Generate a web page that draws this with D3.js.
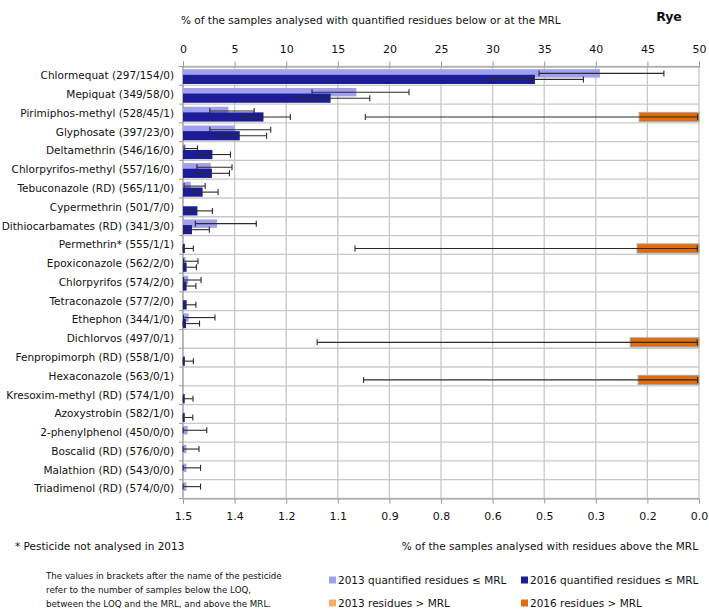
<!DOCTYPE html>
<html>
<head>
<meta charset="utf-8">
<script src="https://cdn.jsdelivr.net/npm/d3@7"></script>
<style>
  body { margin: 0; background: #fff; }
  svg text { font-family: "DejaVu Sans", Verdana, sans-serif; fill: #111; }
</style>
</head>
<body>
<div id="chart"></div>
<script>
// data
var pesticides = [
  "Chlormequat (297/154/0)", "Mepiquat (349/58/0)", "Pirimiphos-methyl (528/45/1)",
  "Glyphosate (397/23/0)", "Deltamethrin (546/16/0)", "Chlorpyrifos-methyl (557/16/0)",
  "Tebuconazole (RD) (565/11/0)", "Cypermethrin (501/7/0)", "Dithiocarbamates (RD) (341/3/0)",
  "Permethrin* (555/1/1)", "Epoxiconazole (562/2/0)", "Chlorpyrifos (574/2/0)",
  "Tetraconazole (577/2/0)", "Ethephon (344/1/0)", "Dichlorvos (497/0/1)",
  "Fenpropimorph (RD) (558/1/0)", "Hexaconazole (563/0/1)", "Kresoxim-methyl (RD) (574/1/0)",
  "Azoxystrobin (582/1/0)", "2-phenylphenol (450/0/0)", "Boscalid (RD) (576/0/0)",
  "Malathion (RD) (543/0/0)", "Triadimenol (RD) (574/0/0)"
];

// % quantified residues <= MRL, 2013 (light) with 95% interval
var q2013   = [40.4, 16.8, 4.4, 5.0, 0.25, 2.7, 0.75, null, 3.3, null, 0.25, 0.5, null, 0.55, null, null, null, null, null, 0.45, 0.33, 0.33, 0.33];
var q2013lo = [34.5, 12.5, 2.6, 2.6, 0.1, 1.35, 0.1, null, 1.2, null, 0.05, 0.05, null, 0.05, null, null, null, null, null, 0.02, 0.01, 0.01, 0.01];
var q2013hi = [46.6, 21.9, 6.9, 8.5, 1.4, 4.75, 2.15, null, 7.1, null, 1.45, 1.75, null, 3.1, null, null, null, null, null, 2.3, 1.55, 1.7, 1.7];

// % quantified residues <= MRL, 2016 (dark)
var q2016   = [34.1, 14.3, 7.8, 5.5, 2.85, 2.8, 1.9, 1.4, 0.87, 0.18, 0.35, 0.35, 0.35, 0.29, null, 0.18, null, 0.17, 0.17, null, null, null, null];
var q2016lo = [29.8, 11.1, 5.8, 3.5, 1.6, 1.6, 1.0, 0.55, 0.2, 0.01, 0.04, 0.04, 0.04, 0.01, null, 0.01, null, 0.01, 0.01, null, null, null, null];
var q2016hi = [38.8, 18.1, 10.4, 8.1, 4.6, 4.5, 3.4, 2.85, 2.55, 1.0, 1.3, 1.25, 1.25, 1.6, null, 1.0, null, 0.97, 0.95, null, null, null, null];

// % residues > MRL (secondary axis, 1.5 -> 0)
var above2013   = [null, null, null, null, null, null, null, null, null, null, null, null, null, null, null, null, null, null, null, null, null, null, null];
var above2016   = [null, null, 0.174, null, null, null, null, null, null, 0.18, null, null, null, null, 0.2, null, 0.177, null, null, null, null, null, null];
var above2016lo = [null, null, 0.004, null, null, null, null, null, null, 0.005, null, null, null, null, 0.005, null, 0.004, null, null, null, null, null, null];
var above2016hi = [null, null, 0.97, null, null, null, null, null, null, 1.0, null, null, null, null, 1.11, null, 0.975, null, null, null, null, null, null];

var topTicks = [0, 5, 10, 15, 20, 25, 30, 35, 40, 45, 50];
var bottomTicks = [1.5, 1.35, 1.2, 1.05, 0.9, 0.75, 0.6, 0.45, 0.3, 0.15, 0];
var bottomTickLabels = ["1.5", "1.4", "1.2", "1.1", "0.9", "0.8", "0.6", "0.5", "0.3", "0.2", "0.0"];

var legendItems = [
  {label: "2013 quantified residues \u2264 MRL", color: "#a0a0ee"},
  {label: "2016 quantified residues \u2264 MRL", color: "#1c1c96"},
  {label: "2013 residues > MRL", color: "#f8ad66"},
  {label: "2016 residues > MRL", color: "#e26b0a"}
];

var width = 709, height = 613;
var plot = {left: 183, right: 699, top: 66.5, bottom: 498.5};

var svg = d3.select("#chart")
  .append("svg")
    .attr("width", width)
    .attr("height", height);

var x = d3.scaleLinear().domain([0, 50]).range([plot.left, plot.right]);
var x2 = d3.scaleLinear().domain([1.5, 0]).range([plot.left, plot.right]);
var y = d3.scaleBand().domain(pesticides).range([plot.top, plot.bottom]).padding(0);
var bw = y.bandwidth();

// bar slots inside a row
var slot13 = {y0: 2.7, h: 8.4};
var slot16 = {y0: 8.3, h: 9.2};

// grid
svg.append("g").selectAll("line")
  .data(topTicks).enter().append("line")
    .attr("x1", d => x(d)).attr("x2", d => x(d))
    .attr("y1", plot.top).attr("y2", plot.bottom)
    .attr("stroke", "#c8c8c8").attr("stroke-width", 1.3);

svg.append("g").selectAll("line")
  .data(pesticides.concat(["__end"])).enter().append("line")
    .attr("x1", plot.left).attr("x2", plot.right)
    .attr("y1", (d, i) => plot.top + i * bw).attr("y2", (d, i) => plot.top + i * bw)
    .attr("stroke", "#c8c8c8").attr("stroke-width", 1.3);

// left tick marks at row edges
svg.append("g").selectAll("line")
  .data(pesticides.concat(["__end"])).enter().append("line")
    .attr("x1", plot.left - 4).attr("x2", plot.left)
    .attr("y1", (d, i) => plot.top + i * bw).attr("y2", (d, i) => plot.top + i * bw)
    .attr("stroke", "#999").attr("stroke-width", 1);

// axes
var topAxis = svg.append("g")
  .attr("transform", "translate(0," + plot.top + ")")
  .call(d3.axisTop(x).tickValues(topTicks).tickSize(5).tickPadding(9));
topAxis.selectAll("text").style("font-size", "11px");

var bottomAxis = svg.append("g")
  .attr("transform", "translate(0," + plot.bottom + ")")
  .call(d3.axisBottom(x2).tickValues(bottomTicks).tickSize(5).tickPadding(9)
    .tickFormat((d, i) => bottomTickLabels[i]));
bottomAxis.selectAll("text").style("font-size", "11px");

var leftAxis = svg.append("g")
  .attr("transform", "translate(" + plot.left + ",0)")
  .call(d3.axisLeft(y).tickSize(0).tickPadding(9));
leftAxis.selectAll("text").style("font-size", "10.5px");
leftAxis.select(".domain").remove();

svg.selectAll(".domain").attr("stroke", "#999");
svg.selectAll(".tick line").attr("stroke", "#999");

svg.append("line")
  .attr("x1", plot.left).attr("x2", plot.left)
  .attr("y1", plot.top).attr("y2", plot.bottom)
  .attr("stroke", "#999");

// bars
function bars(values, slot, color, scale, fromZero, stroke) {
  svg.append("g").selectAll("rect")
    .data(pesticides.map((p, i) => ({p: p, v: values[i]})).filter(d => d.v != null))
    .enter().append("rect")
      .attr("x", d => fromZero ? scale(0) : scale(d.v))
      .attr("width", d => Math.abs(scale(d.v) - scale(0)))
      .attr("y", d => y(d.p) + slot.y0)
      .attr("height", slot.h)
      .attr("fill", color)
      .attr("stroke", stroke || "none")
      .attr("stroke-width", 1);
}

function errors(lo, hi, slot, scale) {
  var data = pesticides.map((p, i) => ({p: p, lo: lo[i], hi: hi[i]})).filter(d => d.lo != null);
  var g = svg.append("g").attr("stroke", "#2a2a2a").attr("stroke-width", 1.1);
  var cy = d => y(d.p) + slot.y0 + slot.h / 2;
  g.selectAll(".eb").data(data).enter().append("line")
    .attr("x1", d => scale(d.lo)).attr("x2", d => scale(d.hi))
    .attr("y1", cy).attr("y2", cy);
  g.selectAll(".c1").data(data).enter().append("line")
    .attr("x1", d => scale(d.lo)).attr("x2", d => scale(d.lo))
    .attr("y1", d => cy(d) - 3).attr("y2", d => cy(d) + 3);
  g.selectAll(".c2").data(data).enter().append("line")
    .attr("x1", d => scale(d.hi)).attr("x2", d => scale(d.hi))
    .attr("y1", d => cy(d) - 3).attr("y2", d => cy(d) + 3);
}

bars(q2013, slot13, legendItems[0].color, x, true);
bars(q2016, slot16, legendItems[1].color, x, true);
bars(above2013, slot13, legendItems[2].color, x2, false, "#a8a8a8");
bars(above2016, slot16, legendItems[3].color, x2, false, "#a8a8a8");

errors(q2013lo, q2013hi, slot13, x);
errors(q2016lo, q2016hi, slot16, x);
errors(above2016lo, above2016hi, slot16, x2);

// titles
svg.append("text")
  .attr("x", 669).attr("y", 21)
  .attr("text-anchor", "middle")
  .style("font-size", "12.5px").style("font-weight", "bold")
  .text("Rye");

svg.append("text")
  .attr("x", 181).attr("y", 24)
  .style("font-size", "10.5px")
  .text("% of the samples analysed with quantified residues below or at the MRL");

svg.append("text")
  .attr("x", 698).attr("y", 550)
  .attr("text-anchor", "end")
  .style("font-size", "10.5px")
  .text("% of the samples analysed with residues above the MRL");

svg.append("text")
  .attr("x", 15).attr("y", 550)
  .style("font-size", "10.5px")
  .text("* Pesticide not analysed in 2013");

var notes = [
  "The values in brackets after the name of the pesticide",
  "refer to the number of samples below the LOQ,",
  "between the LOQ and the MRL, and above the MRL."
];
svg.append("g").selectAll("text")
  .data(notes).enter().append("text")
    .attr("x", 46).attr("y", (d, i) => 579 + i * 14)
    .style("font-size", "8.7px")
    .text(d => d);

// legend
var legend = svg.append("g").selectAll("g")
  .data(legendItems).enter().append("g")
    .attr("transform", (d, i) => "translate(" + (i % 2 === 0 ? 329 : 521) + "," + (i < 2 ? 580 : 603) + ")");
legend.append("rect")
  .attr("x", 0).attr("y", -3.5).attr("width", 7).attr("height", 7)
  .attr("fill", d => d.color);
legend.append("text")
  .attr("x", 9).attr("y", 0).attr("dy", "0.35em")
  .style("font-size", "10.5px")
  .text(d => d.label);
</script>
</body>
</html>
